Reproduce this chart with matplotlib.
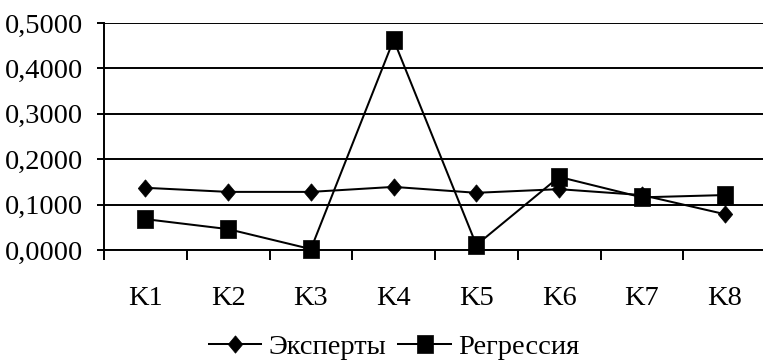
import matplotlib
matplotlib.use("Agg")
import matplotlib.pyplot as plt
import numpy as np

categories = ["K1", "K2", "K3", "K4", "K5", "K6", "K7", "K8"]
experts = [0.137, 0.128, 0.128, 0.139, 0.126, 0.134, 0.121, 0.079]
regression = [0.068, 0.046, 0.002, 0.463, 0.011, 0.161, 0.116, 0.121]
y_ticks = [0.0, 0.1, 0.2, 0.3, 0.4, 0.5]
y_labels = ["0,0000", "0,1000", "0,2000", "0,3000", "0,4000", "0,5000"]
series_names = ["Эксперты", "Регрессия"]

plt.rcParams['font.family'] = ['Liberation Serif', 'DejaVu Serif']
FS = 20.5

# slightly tall marker shapes (as in the reference)
diamond = [(0, 1.2), (1, 0), (0, -1.2), (-1, 0), (0, 1.2)]
tall_square = [(-0.89, -1), (0.89, -1), (0.89, 1), (-0.89, 1), (-0.89, -1)]

fig = plt.figure(figsize=(7.63, 3.62), dpi=100)
ax = fig.add_axes([104/763, 1-250/362, 662/763, 227/362])

x = np.arange(len(categories))
ax.plot(x, experts, color='black', lw=1.45, marker=diamond, ms=12.5, mew=0.5,
        label=series_names[0], zorder=3, clip_on=False)
ax.plot(x, regression, color='black', lw=1.45, marker=tall_square, ms=12.5, mew=0.5,
        label=series_names[1], zorder=3, clip_on=False)

ax.set_xlim(-0.5, len(categories) - 0.5)
ax.set_ylim(0, 0.5)

ax.set_yticks(y_ticks)
ax.set_yticklabels(y_labels, fontsize=FS)
ax.yaxis.grid(True, color='black', lw=1.4)
ax.set_axisbelow(True)

ax.set_xticks(np.arange(-0.5, len(categories), 1.0))
ax.set_xticklabels([])
ax.set_xticks(x, minor=True)
ax.set_xticklabels(categories, minor=True, fontsize=FS)
ax.tick_params(axis='x', which='major', direction='out', length=7, width=1.4, color='black')
ax.tick_params(axis='x', which='minor', length=0, pad=26)
ax.tick_params(axis='y', direction='out', length=5, width=1.4, pad=10)

for s in ['top', 'right']:
    ax.spines[s].set_visible(False)
for s in ['left', 'bottom']:
    ax.spines[s].set_linewidth(1.4)
    ax.spines[s].set_color('black')

fig.legend(loc='center', bbox_to_anchor=(394/763, 1-347/362), ncol=2, frameon=False,
           fontsize=FS, handlelength=1.85, handletextpad=0.25, columnspacing=0.42,
           borderaxespad=0, borderpad=0)

fig.savefig("out.png", dpi=100)
